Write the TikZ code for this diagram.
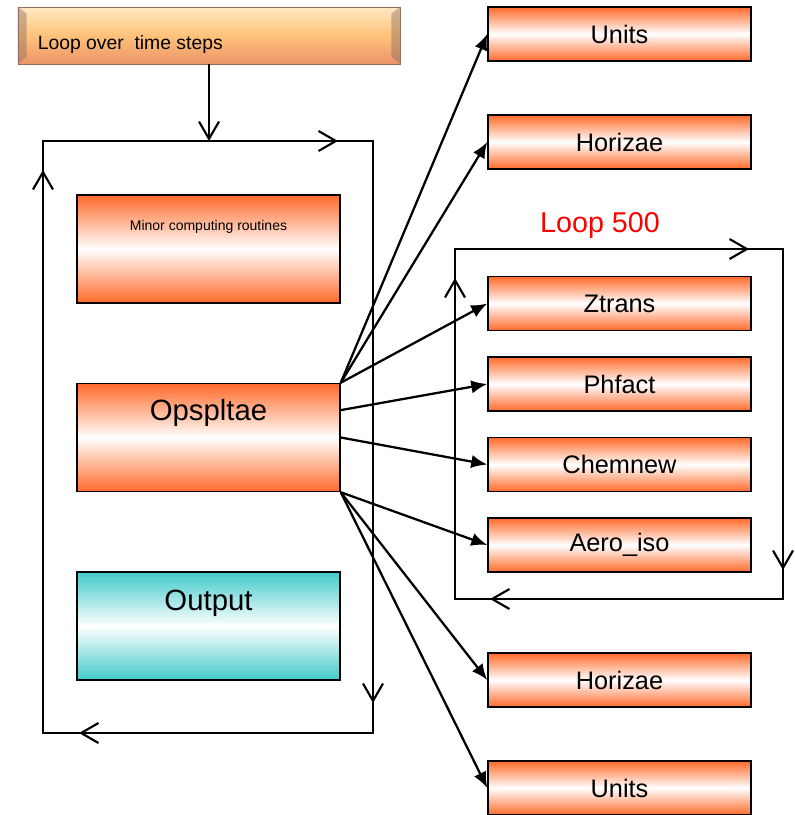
\documentclass[tikz,border=0pt]{standalone}
\usepackage{fontspec}
\setmainfont{Liberation Sans}
\usetikzlibrary{arrows.meta,calc,positioning}
\definecolor{RoutClr}{HTML}{FF6A2A}
\definecolor{OutClr}{HTML}{42CACA}
\definecolor{BarTop}{HTML}{FFE9C4}
\definecolor{BarMid}{HTML}{FFC27A}
\definecolor{BarBot}{HTML}{EC9468}
\definecolor{BevelClr}{HTML}{8C7060}

\tikzset{
  routine/.style={draw=black,line width=1.1pt,top color=RoutClr,bottom color=RoutClr,
    middle color=white,minimum width=197.25pt,minimum height=40.5pt,inner sep=0pt,
    font=\fontsize{19}{21}\selectfont},
  bigbox/.style={routine,minimum height=81pt},
  outbox/.style={bigbox,top color=OutClr,bottom color=OutClr,middle color=white},
  timebar/.style={draw=BevelClr,line width=0.6pt,top color=BarTop,bottom color=BarBot,
    middle color=BarMid,minimum width=286.5pt,minimum height=42.75pt,inner sep=0pt},
  boxtext/.style={inner sep=0pt,font=\fontsize{22}{24}\selectfont},
  loopline/.style={line width=0.9pt},
  looparrow/.style={line width=1.6pt,-{Straight Barb[length=13pt,width=15pt]}},
  callarrow/.style={line width=1.7pt,-{Latex[length=12pt,width=10pt]}},
}

\begin{document}
\begin{tikzpicture}[x=0.75pt,y=-0.75pt]
\useasboundingbox (0,0) rectangle (794,815);

% Time loop bar.
\node[timebar] (tsteps) at (209,35.5) {};
\fill[BevelClr,opacity=.45] (tsteps.north west) -- ++(9,7) -- ++(0,43) -- (tsteps.south west) -- cycle;
\fill[BevelClr,opacity=.45] (tsteps.north east) -- ++(-9,7) -- ++(0,43) -- (tsteps.south east) -- cycle;
\node[anchor=west,inner sep=0pt,font=\fontsize{14.5}{16}\selectfont] (tstext)
  at ([xshift=15pt,yshift=-7pt]tsteps.west) {Loop over~ time steps};

% Outer loop.
\coordinate (oNW) at (43,141);
\coordinate (oSE) at (373,733);
\draw[loopline] (oNW) rectangle (oSE);
\draw[looparrow] (tsteps.south) -- (tsteps.south |- oNW);
\draw[looparrow] (77,141) -- (338,141);
\draw[looparrow] (373,168) -- (373,703);
\draw[looparrow] (340,733) -- (79,733);
\draw[looparrow] (43,706) -- (43,170);

\node[bigbox] (minor) at (208.5,249) {};
\node[below=19pt of minor.north,inner sep=0pt,font=\fontsize{10.5}{12}\selectfont] (minortxt) {Minor computing routines};
\node[bigbox] (ops) at (208.5,437.5) {};
\node[boxtext,below=12pt of ops.north] (opstxt) {Opspltae};
\node[outbox] (output) at (208.5,626) {};
\node[boxtext,below=13.5pt of output.north] (outtxt) {Output};

% Called routines.
\node[routine] (units1) at (619.5,34) {Units};
\node[routine] (horiz1) at (619.5,142) {Horizae};
\node[routine] (ztrans) at (619.5,303.5) {Ztrans};
\node[routine] (phfact) at (619.5,384) {Phfact};
\node[routine] (chem) at (619.5,464.5) {Chemnew};
\node[routine] (aero) at (619.5,545) {Aero\_iso};
\node[routine] (horiz2) at (619.5,680) {Horizae};
\node[routine] (units2) at (619.5,788) {Units};

% Inner loop.
\node[text=red,inner sep=0pt,font=\fontsize{21.5}{24}\selectfont] (loopname) at (600,225) {Loop 500};
\draw[loopline] (455,249) rectangle (783,599);
\draw[looparrow] (488,249) -- (749,249);
\draw[looparrow] (783,303) -- (783,570);
\draw[looparrow] (751,599) -- (490,599);
\draw[looparrow] (455,585) -- (455,278);

% Calls from Opspltae.
\draw[callarrow] (ops.north east) -- (units1.west);
\draw[callarrow] (ops.north east) -- (horiz1.west);
\draw[callarrow] (ops.north east) -- (ztrans.west);
\draw[callarrow] ($(ops.north east)!.25!(ops.south east)$) -- (phfact.west);
\draw[callarrow] ($(ops.north east)!.5!(ops.south east)$) -- (chem.west);
\draw[callarrow] (ops.south east) -- (aero.west);
\draw[callarrow] (ops.south east) -- (horiz2.west);
\draw[callarrow] (ops.south east) -- (units2.west);

\end{tikzpicture}
\end{document}
